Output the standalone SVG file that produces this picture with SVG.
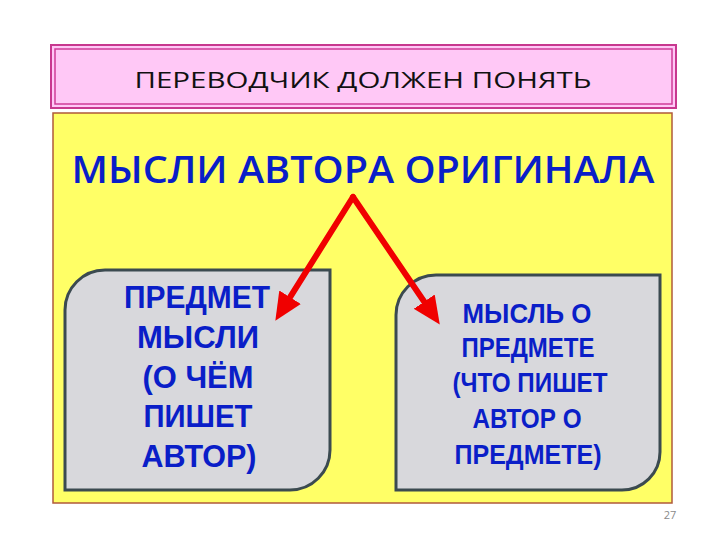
<svg xmlns="http://www.w3.org/2000/svg" width="720" height="540" viewBox="0 0 720 540">
<defs>
<style>
.t{font-family:"Open Sans","Noto Sans","DejaVu Sans",sans-serif;text-anchor:middle}
.b{font-family:"Liberation Sans","Arial",sans-serif;text-anchor:middle;fill:#0a1ec8;font-weight:bold}
.box{fill:#d8d8dc;stroke:#3b4a50;stroke-width:3}
.arr{stroke:#f00000;stroke-width:6;fill:none;stroke-linecap:round}
</style>
<marker id="ah" markerUnits="userSpaceOnUse" markerWidth="30" markerHeight="30" viewBox="0 -12 26 24" refX="4" refY="0" orient="auto">
<path d="M0,-11 L24,0 L0,11 Z" fill="#f00000"/>
</marker>
</defs>
<rect width="720" height="540" fill="#ffffff"/>
<g id="header">
<rect x="51" y="45" width="625" height="63" fill="#ffc8f6" stroke="#c8388f" stroke-width="2"/>
<rect x="55" y="49" width="617" height="55" fill="none" stroke="#d03c98" stroke-width="1.5"/>
<text class="t" x="363" y="88" font-size="22" font-weight="500" fill="#111" textLength="457" lengthAdjust="spacingAndGlyphs">ПЕРЕВОДЧИК  ДОЛЖЕН  ПОНЯТЬ</text>
</g>
<g id="panel">
<rect x="53" y="113" width="619" height="390" fill="#ffff66" stroke="#b05a3a" stroke-width="1.5"/>
<text class="t" x="363" y="183" font-size="37" font-weight="600" fill="#0a1ec8" textLength="583" lengthAdjust="spacingAndGlyphs">МЫСЛИ  АВТОРА  ОРИГИНАЛА</text>
</g>
<g id="left-box">
<path class="box" d="M65,310 A40,40 0 0 1 105,270 L330,270 L330,450 A40,40 0 0 1 290,490 L65,490 Z"/>
<g class="b" font-size="32">
<text x="197" y="308" textLength="146" lengthAdjust="spacingAndGlyphs">ПРЕДМЕТ</text>
<text x="198" y="348" textLength="122" lengthAdjust="spacingAndGlyphs">МЫСЛИ</text>
<text x="198" y="388" textLength="111" lengthAdjust="spacingAndGlyphs">(О ЧЁМ</text>
<text x="198" y="427" textLength="109" lengthAdjust="spacingAndGlyphs">ПИШЕТ</text>
<text x="199" y="467" textLength="115" lengthAdjust="spacingAndGlyphs">АВТОР)</text>
</g>
</g>
<g id="right-box">
<path class="box" d="M396,315 A40,40 0 0 1 436,275 L660,275 L660,452 A38,38 0 0 1 622,490 L396,490 Z"/>
<g class="b" font-size="28">
<text x="527" y="323" textLength="129" lengthAdjust="spacingAndGlyphs">МЫСЛЬ О</text>
<text x="528" y="357" textLength="133" lengthAdjust="spacingAndGlyphs">ПРЕДМЕТЕ</text>
<text x="530" y="392" textLength="155" lengthAdjust="spacingAndGlyphs">(ЧТО ПИШЕТ</text>
<text x="527" y="428" textLength="109" lengthAdjust="spacingAndGlyphs">АВТОР О</text>
<text x="528" y="464" textLength="147" lengthAdjust="spacingAndGlyphs">ПРЕДМЕТЕ)</text>
</g>
</g>
<g id="connectors">
<path class="arr" d="M353,197 L287.6,301.1" marker-end="url(#ah)"/>
<path class="arr" d="M353,197 L426.8,305.5" marker-end="url(#ah)"/>
</g>
<text class="t" x="670" y="519" font-size="11" fill="#8a8a8a" font-family="Liberation Sans, sans-serif">27</text>
</svg>
